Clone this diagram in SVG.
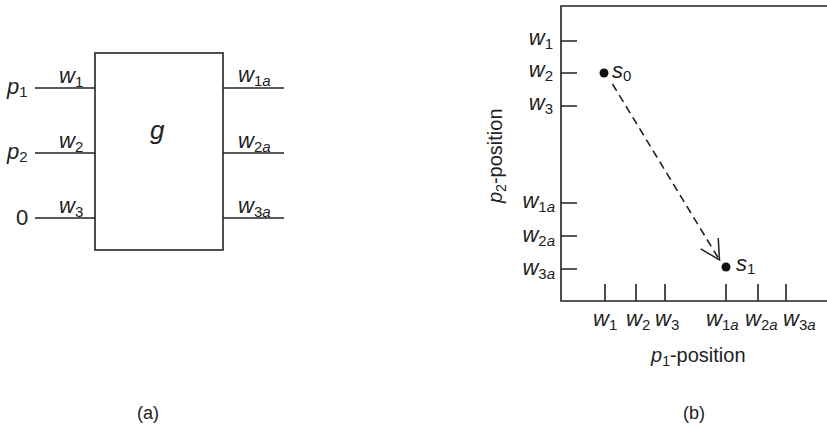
<svg xmlns="http://www.w3.org/2000/svg" width="827" height="438" viewBox="0 0 827 438">
<style>
text{font-family:"Liberation Sans",Arial,sans-serif;font-size:22px;fill:#222}
.i{font-style:italic}
.s{font-size:15px;font-style:normal}
.sa{font-size:15px;font-style:italic}
.ax{font-size:20px}
.ax .s{font-size:14px}
.ln{stroke:#222;stroke-width:1.6;fill:none}
</style>
<defs>
<marker id="ah" viewBox="-21 -12 22 24" refX="0" refY="0" markerWidth="22" markerHeight="24" markerUnits="userSpaceOnUse" orient="auto">
<path d="M-19.4,-10.3 L0,0 L-19.4,10.3" fill="none" stroke="#222" stroke-width="1.5"/>
</marker>
</defs>
<g id="box_g">
<rect x="95" y="53" width="128" height="197" class="ln"/>
<text x="150" y="139" class="i" style="font-size:26px">g</text>
</g>
<g id="inputs">
<text x="7" y="94" class="i">p<tspan class="s" dy="3">1</tspan></text>
<text x="7" y="159" class="i">p<tspan class="s" dy="3">2</tspan></text>
<text x="16" y="225">0</text>
<text x="59" y="83" class="i">w<tspan class="s" dy="4">1</tspan></text>
<text x="59" y="148" class="i">w<tspan class="s" dy="4">2</tspan></text>
<text x="59" y="213" class="i">w<tspan class="s" dy="4">3</tspan></text>
</g>
<g id="outputs">
<text x="238" y="82" class="i">w<tspan class="s" dy="4">1</tspan><tspan class="sa">a</tspan></text>
<text x="238" y="148" class="i">w<tspan class="s" dy="4">2</tspan><tspan class="sa">a</tspan></text>
<text x="238" y="213" class="i">w<tspan class="s" dy="4">3</tspan><tspan class="sa">a</tspan></text>
</g>
<g id="connectors">
<line x1="35" y1="88" x2="95" y2="88" class="ln"/>
<line x1="35" y1="153" x2="95" y2="153" class="ln"/>
<line x1="35" y1="218" x2="95" y2="218" class="ln"/>
<line x1="223" y1="88" x2="284" y2="88" class="ln"/>
<line x1="223" y1="153" x2="284" y2="153" class="ln"/>
<line x1="223" y1="218" x2="284" y2="218" class="ln"/>
<line x1="612.5" y1="84" x2="719.5" y2="260" class="ln" stroke-dasharray="8,5" marker-end="url(#ah)"/>
</g>
<g id="plot">
<path d="M827,6 H561 V301 H827" class="ln"/>
<path d="M561,41 H577 M561,73 H577 M561,106 H577 M561,203 H577 M561,236 H577 M561,269 H577" class="ln"/>
<path d="M605,284 V301 M636,284 V301 M665,284 V301 M726,284 V301 M758,284 V301 M786,284 V301" class="ln"/>
<g text-anchor="end">
<text x="553" y="45" class="i">w<tspan class="s" dy="4">1</tspan></text>
<text x="553" y="77" class="i">w<tspan class="s" dy="4">2</tspan></text>
<text x="553" y="110" class="i">w<tspan class="s" dy="4">3</tspan></text>
<text x="555" y="208" class="i">w<tspan class="s" dy="4">1</tspan><tspan class="sa">a</tspan></text>
<text x="555" y="242" class="i">w<tspan class="s" dy="4">2</tspan><tspan class="sa">a</tspan></text>
<text x="555" y="275" class="i">w<tspan class="s" dy="4">3</tspan><tspan class="sa">a</tspan></text>
</g>
<text x="593" y="326" class="i">w<tspan class="s" dy="4">1</tspan></text>
<text x="626" y="326" class="i">w<tspan class="s" dy="4">2</tspan></text>
<text x="655" y="326" class="i">w<tspan class="s" dy="4">3</tspan></text>
<text x="706" y="326" class="i">w<tspan class="s" dy="4">1</tspan><tspan class="sa">a</tspan></text>
<text x="745" y="326" class="i">w<tspan class="s" dy="4">2</tspan><tspan class="sa">a</tspan></text>
<text x="783" y="326" class="i">w<tspan class="s" dy="4">3</tspan><tspan class="sa">a</tspan></text>
<text x="651" y="362" class="ax i">p<tspan class="s" dy="4">1</tspan><tspan dy="-4" style="font-style:normal">-position</tspan></text>
<text transform="translate(502,203) rotate(-90)" class="ax i">p<tspan class="s" dy="4">2</tspan><tspan dy="-4" style="font-style:normal">-position</tspan></text>
</g>
<g id="s0">
<circle cx="604" cy="73" r="4.5" fill="#111"/>
<text x="612" y="78" class="i">s<tspan class="s" dy="3">0</tspan></text>
</g>
<g id="s1">
<circle cx="726" cy="267" r="4.5" fill="#111"/>
<text x="736" y="271" class="i">s<tspan class="s" dy="3">1</tspan></text>
</g>
<text x="137" y="419" style="font-size:18px">(a)</text>
<text x="683" y="419" style="font-size:18px">(b)</text>
</svg>
